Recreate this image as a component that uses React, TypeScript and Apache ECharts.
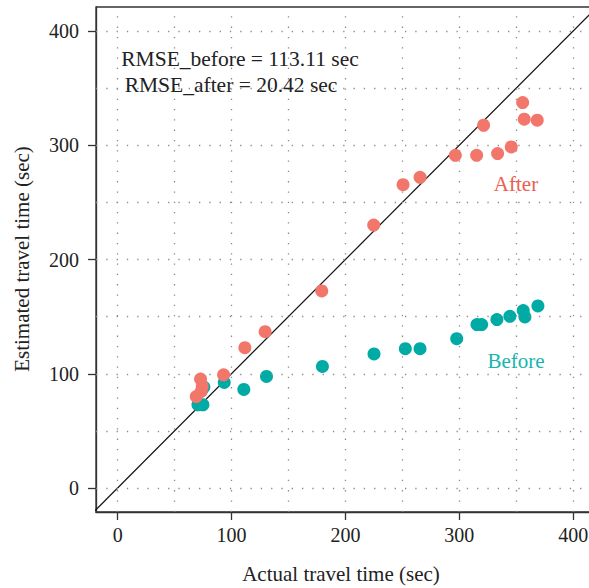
import React, { useEffect, useRef } from "react";
import * as echarts from "echarts";

const afterX = [69, 72.8, 74.3, 73.4, 93, 111.7, 129.5, 179.2, 224.8, 250.6, 265.5, 296.5, 315.2, 321.3, 333.6, 345.6, 355.6, 357, 368.4];
const afterY = [80, 95.3, 88.9, 84.5, 99.1, 122.8, 136.8, 172.5, 230.1, 265.5, 271.9, 291.2, 291.2, 317.5, 292.7, 298.5, 337.4, 322.8, 321.9];
const beforeX = [70.5, 74.9, 74.3, 75.7, 93.6, 110.8, 130.7, 179.8, 225.1, 252.6, 265.5, 297.7, 315.5, 319.6, 333, 344.4, 356.1, 357.6, 369];
const beforeY = [72.8, 72.8, 86.6, 88.3, 92.4, 86.3, 97.7, 106.4, 117.3, 121.9, 121.9, 130.7, 143, 143, 147.4, 150.3, 155.3, 149.7, 159.4];
const tickValues = [0, 100, 200, 300, 400];
const gridValues = [0, 50, 100, 150, 200, 250, 300, 350, 400];
const diagonal = [[-30, -30], [440, 440]];

const FONT = "'Liberation Serif', 'DejaVu Serif', serif";
const RED = "#F3766B";
const TEAL = "#00ABA6";

export default function App() {
  const ref = useRef<HTMLDivElement>(null);
  useEffect(() => {
    const chart = echarts.init(ref.current!, null, { renderer: "svg" });
    const dotted = { color: "#8a8a8a", width: 1.3, type: [1.3, 9] as any };
    chart.setOption({
      animation: false,
      backgroundColor: "#fff",
      grid: {
        left: 96,
        top: 7,
        width: 500,
        height: 505,
        outerBoundsMode: "none",
        containLabel: false,
        show: true,
        borderColor: "#333",
        borderWidth: 1.3,
        backgroundColor: "transparent",
      },
      xAxis: {
        type: "value",
        min: -19,
        max: 420,
        axisLine: { show: true, onZero: false, lineStyle: { color: "#333", width: 1.3 } },
        axisTick: { show: true, length: 8, customValues: tickValues, lineStyle: { color: "#333", width: 1.3 } },
        axisLabel: { customValues: tickValues, margin: 13, fontSize: 20, color: "#222", fontFamily: FONT },
        splitLine: { show: false },
      },
      yAxis: {
        type: "value",
        min: -21,
        max: 421,
        axisLine: { show: true, onZero: false, lineStyle: { color: "#333", width: 1.3 } },
        axisTick: { show: true, length: 8, customValues: tickValues, lineStyle: { color: "#333", width: 1.3 } },
        axisLabel: { customValues: tickValues, margin: 17, fontSize: 20, color: "#222", fontFamily: FONT },
        splitLine: { show: false },
      },
      series: [
        {
          type: "line",
          data: diagonal,
          symbol: "none",
          clip: true,
          lineStyle: { color: "#111", width: 1.2 },
          z: 3,
          markLine: {
            silent: true,
            symbol: "none",
            label: { show: false },
            lineStyle: dotted,
            data: [
              ...gridValues.map((v) => ({ xAxis: v })),
              ...gridValues.map((v) => ({ yAxis: v })),
            ],
          },
        },
        {
          type: "scatter",
          name: "Before",
          data: beforeX.map((x, i) => [x, beforeY[i]]),
          symbolSize: 13,
          itemStyle: { color: TEAL, opacity: 1 },
          z: 4,
        },
        {
          type: "scatter",
          name: "After",
          data: afterX.map((x, i) => [x, afterY[i]]),
          symbolSize: 13,
          itemStyle: { color: RED, opacity: 1 },
          z: 5,
        },
      ],
      graphic: [
        {
          type: "text",
          x: 240,
          y: 59,
          style: { text: "RMSE_before = 113.11 sec", font: `21.5px ${FONT}`, fill: "#222", textAlign: "center", textVerticalAlign: "middle" },
          z: 10,
        },
        {
          type: "text",
          x: 231,
          y: 85,
          style: { text: "RMSE_after = 20.42 sec", font: `21.5px ${FONT}`, fill: "#222", textAlign: "center", textVerticalAlign: "middle" },
          z: 10,
        },
        {
          type: "text",
          x: 516,
          y: 184,
          style: { text: "After", font: `21px ${FONT}`, fill: "#EE5E50", textAlign: "center", textVerticalAlign: "middle" },
          z: 10,
        },
        {
          type: "text",
          x: 516,
          y: 361,
          style: { text: "Before", font: `21px ${FONT}`, fill: "#16B5AF", textAlign: "center", textVerticalAlign: "middle" },
          z: 10,
        },
        {
          type: "text",
          x: 341,
          y: 574,
          style: { text: "Actual travel time (sec)", font: `21px ${FONT}`, fill: "#222", textAlign: "center", textVerticalAlign: "middle" },
        },
        {
          type: "text",
          x: 22,
          y: 259,
          rotation: Math.PI / 2,
          style: { text: "Estimated travel time (sec)", font: `21px ${FONT}`, fill: "#222", textAlign: "center", textVerticalAlign: "middle" },
        },
      ],
    });
    return () => chart.dispose();
  }, []);
  return (
    <div
      ref={ref}
      style={{ position: "absolute", left: 0, top: 0, width: 589, height: 588 }}
    />
  );
}
